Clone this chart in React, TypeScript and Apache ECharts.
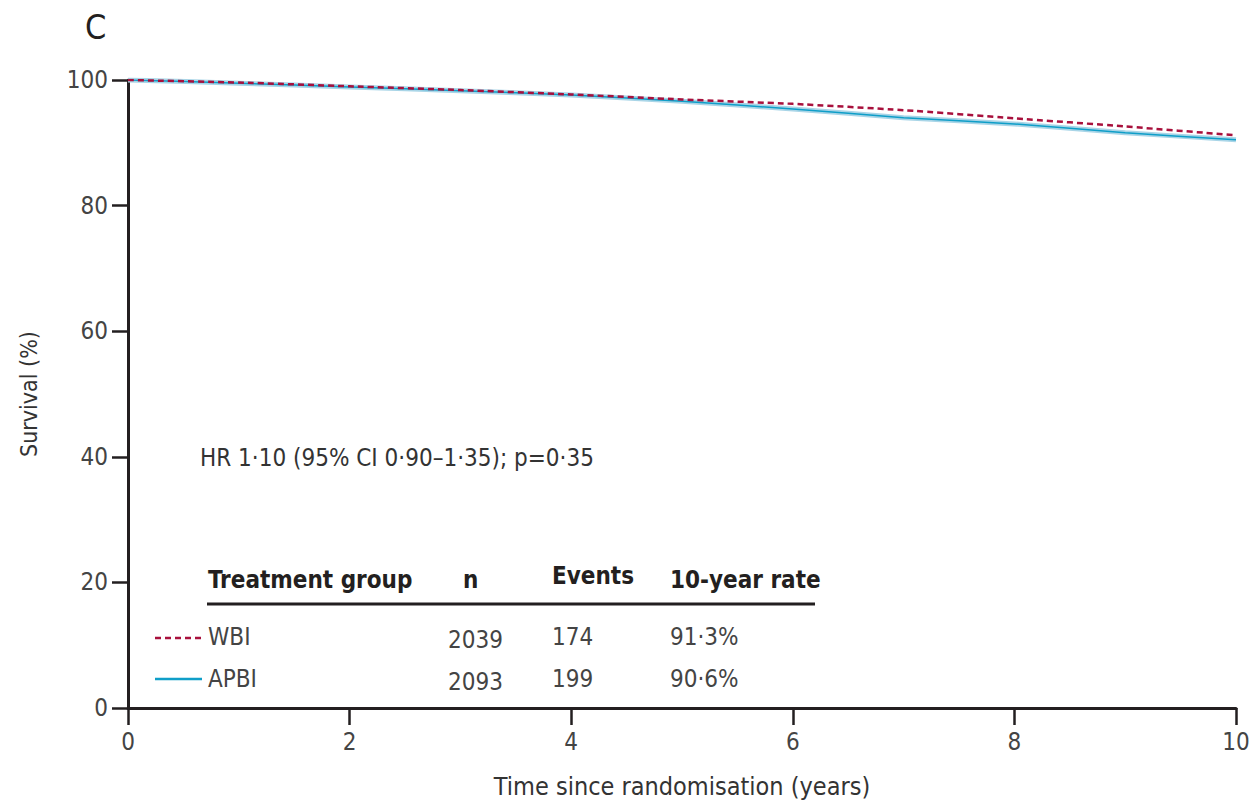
import React, { useEffect, useRef } from "react";
import * as echarts from "echarts";

const years = [0, 1, 2, 3, 4, 5, 6, 7, 8, 9, 10];
const wbiSurvival = [100, 99.6, 99.0, 98.4, 97.7, 96.9, 96.2, 95.2, 93.9, 92.6, 91.2];
const apbiSurvival = [100, 99.5, 98.9, 98.3, 97.6, 96.6, 95.4, 94.0, 93.0, 91.6, 90.5];
const xTicks = [0, 2, 4, 6, 8, 10];
const yTicks = [0, 20, 40, 60, 80, 100];
const tableHeader = ["Treatment group", "n", "Events", "10-year rate"];
const tableRows = [
  ["WBI", "2039", "174", "91·3%"],
  ["APBI", "2093", "199", "90·6%"],
];
const hrText = "HR 1·10 (95% CI 0·90–1·35); p=0·35";

const FONT = "'Liberation Sans Narrow', 'DejaVu Sans Condensed', sans-serif";
const WBI_COLOR = "#a8103c";
const APBI_COLOR = "#0f9ec8";

export default function App() {
  const ref = useRef<HTMLDivElement>(null);
  useEffect(() => {
    document.body.style.margin = "0";
    const chart = echarts.init(ref.current!, undefined, { renderer: "svg" });
    const pairs = (vals: number[]) => years.map((y, i) => [y, vals[i]]);
    const colX = [208, 463, 552, 670];
    const headerY = 580;
    const rowY = [638, 680];
    const graphic: any[] = [
      { type: "text", left: 85, top: 10, style: { text: "C", font: `34px ${FONT}`, fill: "#231f20" } },
      { type: "text", left: 200, top: 446, style: { text: hrText, font: `24px ${FONT}`, fill: "#333" } },
      ...tableHeader.map((h, i) => ({
        type: "text",
        left: colX[i],
        top: headerY - (i === 2 ? 16 : 12),
        style: { text: h, font: `bold 24px ${FONT}`, fill: "#231f20" },
      })),
      { type: "line", shape: { x1: 207, y1: 604, x2: 815, y2: 604 }, style: { stroke: "#231f20", lineWidth: 3 } },
      ...tableRows.flatMap((row, r) =>
        row.map((c, i) => ({
          type: "text",
          left: i === 1 ? 448 : colX[i],
          top: rowY[r] - 13 + (i === 1 ? 3 : 0),
          style: { text: c, font: `24px ${FONT}`, fill: "#444" },
        }))
      ),
      { type: "line", shape: { x1: 155, y1: 638, x2: 201, y2: 638 }, style: { stroke: WBI_COLOR, lineWidth: 2.5, lineDash: [6, 4] } },
      { type: "line", shape: { x1: 155, y1: 679, x2: 202, y2: 679 }, style: { stroke: APBI_COLOR, lineWidth: 2.5 } },
    ];
    chart.setOption({
      animation: false,
      grid: { left: 128, right: 19, top: 80, bottom: 91, containLabel: false },
      xAxis: {
        type: "value",
        min: 0,
        max: 10,
        interval: 2,
        name: "Time since randomisation (years)",
        nameLocation: "middle",
        nameGap: 66,
        nameTextStyle: { fontFamily: FONT, fontSize: 25, color: "#333" },
        axisLine: { lineStyle: { color: "#231f20", width: 3 } },
        axisTick: { length: 17, lineStyle: { color: "#231f20", width: 2.5 } },
        axisLabel: { fontFamily: FONT, fontSize: 24, color: "#444", margin: 22, customValues: xTicks },
        splitLine: { show: false },
      },
      yAxis: {
        type: "value",
        min: 0,
        max: 100,
        interval: 20,
        name: "Survival (%)",
        nameLocation: "middle",
        nameGap: 88,
        nameTextStyle: { fontFamily: FONT, fontSize: 23, color: "#333" },
        axisLine: { show: true, lineStyle: { color: "#231f20", width: 3 } },
        axisTick: { show: true, length: 16, lineStyle: { color: "#231f20", width: 2.5 } },
        axisLabel: { fontFamily: FONT, fontSize: 24, color: "#444", margin: 20, customValues: yTicks },
        splitLine: { show: false },
      },
      graphic,
      series: [
        {
          name: "APBI halo",
          type: "line",
          data: pairs(apbiSurvival),
          showSymbol: false,
          smooth: 0.2,
          lineStyle: { color: "#a9d5e7", width: 5 },
          z: 1,
        },
        {
          name: "APBI",
          type: "line",
          data: pairs(apbiSurvival),
          showSymbol: false,
          smooth: 0.2,
          lineStyle: { color: APBI_COLOR, width: 1.5 },
          z: 2,
        },
        {
          name: "WBI",
          type: "line",
          data: pairs(wbiSurvival),
          showSymbol: false,
          smooth: 0.2,
          lineStyle: { color: WBI_COLOR, width: 2.5, type: [6, 4] },
          z: 3,
        },
      ],
    });
    return () => chart.dispose();
  }, []);
  return <div ref={ref} style={{ width: 1255, height: 804 }} />;
}
